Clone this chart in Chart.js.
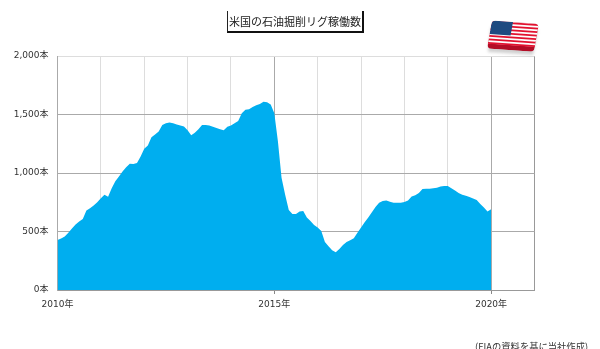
<!DOCTYPE html>
<html lang="ja">
<head>
<meta charset="utf-8">
<title>米国の石油掘削リグ稼働数</title>
<script src="https://cdn.jsdelivr.net/npm/chart.js@4"></script>
<style>
  html, body { margin: 0; padding: 0; background: #fff; overflow: hidden; }
  #wrap { position: relative; width: 600px; height: 349px; overflow: hidden; font-family: "DejaVu Sans", "Noto Sans CJK JP", sans-serif; }
  #rigChart { position: absolute; left: 0; top: 0; }
  #title {
    position: absolute; left: 227px; top: 11px; width: 134px; height: 20px;
    border-left: 1px solid #222; border-right: 2px solid #111; border-bottom: 2px solid #111;
    font: 11px/20px "Noto Sans CJK JP", sans-serif; color: #222; text-align: center; white-space: nowrap;
  }
  #source { position: absolute; left: 475px; top: 339px; font: 9.3px/14px "Noto Sans CJK JP", sans-serif; color: #333; white-space: nowrap; }
  #flag { position: absolute; left: 480px; top: 14px; }
</style>
</head>
<body>
<div id="wrap">
  <canvas id="rigChart" width="600" height="349"></canvas>
  <div id="title">米国の石油掘削リグ稼働数</div>
  <svg id="flag" width="66" height="48" viewBox="480 14 66 48">
    <defs>
      <filter id="soft"><feGaussianBlur stdDeviation="1.6"/></filter>
      <clipPath id="flagEdge"><rect x="0" y="0" width="47" height="28" rx="4"/></clipPath>
    </defs>
    <path d="M491 27 L538 30 L533 55 L488 52 Z" fill="#999" opacity="0.45" filter="url(#soft)"/>
    <g transform="matrix(1 0.07 -0.18 1 492 20.5)" clip-path="url(#flagEdge)">
      <rect x="0" y="0" width="47" height="28" fill="#b30d26"/>
      <rect x="0" y="0" width="47" height="23" fill="#fdfdfd"/>
      <rect x="0" y="0.5" width="47" height="1.8" fill="#e2112f"/>
      <rect x="0" y="4" width="47" height="1.8" fill="#e2112f"/>
      <rect x="0" y="7.5" width="47" height="1.8" fill="#e2112f"/>
      <rect x="0" y="11" width="47" height="1.8" fill="#e2112f"/>
      <rect x="0" y="14.5" width="47" height="1.8" fill="#e2112f"/>
      <rect x="0" y="18" width="47" height="1.8" fill="#e2112f"/>
      <rect x="0" y="21.5" width="47" height="1.8" fill="#e2112f"/>
      <rect x="0" y="0" width="21" height="13.5" fill="#1f4a80"/>
    </g>
  </svg>
  <div id="source">(EIAの資料を基に当社作成)</div>
</div>
<script>
// monthly rig counts, Jan 2010 to Jan 2020
const rigCounts = [
  427, 440, 458, 490, 525, 560, 585, 607, 680, 698, 722, 750,
  785, 815, 798, 870, 930, 970, 1012, 1050, 1078, 1076, 1085, 1140,
  1208, 1235, 1305, 1330, 1355, 1410, 1425, 1432, 1425, 1415, 1405, 1398,
  1365, 1322, 1345, 1375, 1410, 1410, 1405, 1395, 1385, 1373, 1365, 1395,
  1405, 1425, 1445, 1510, 1540, 1545, 1565, 1580, 1590, 1610, 1605, 1585,
  1510, 1270, 960, 815, 684, 650, 650, 672, 675, 620, 590, 555,
  535, 505, 410, 375, 340, 322, 350, 385, 410, 425, 442, 490,
  535, 580, 620, 665, 710, 745, 760, 765, 755, 745, 745, 745,
  752, 765, 800, 810, 830, 863, 865, 865, 870, 875, 885, 888,
  888, 870, 850, 830, 815, 806, 795, 783, 770, 735, 705, 672,
  690
];
const startYear = 2010;
const endYear = 2021;
const labelledYears = [2010, 2015, 2020];
const maxRigs = 2000;
const rigStep = 500;

const points = rigCounts.map((v, i) => ({ x: startYear + i / 12, y: v }));
const tickFont = { family: '"DejaVu Sans", "Noto Sans CJK JP", sans-serif', size: 9 };

new Chart(document.getElementById('rigChart'), {
  type: 'line',
  data: {
    datasets: [{
      data: points,
      backgroundColor: '#00aeef',
      borderWidth: 0,
      pointRadius: 0,
      fill: 'origin'
    }]
  },
  options: {
    responsive: false,
    animation: false,
    layout: { padding: { top: 56, right: 65.5 } },
    plugins: { legend: { display: false }, tooltip: { enabled: false } },
    scales: {
      x: {
        type: 'linear',
        min: startYear,
        max: endYear,
        afterFit: scale => { scale.height = 59; },
        border: { color: '#999' },
        grid: {
          color: ctx => {
            if (ctx.tick.value === endYear) return '#999';
            return labelledYears.includes(ctx.tick.value) && ctx.tick.value !== startYear ? '#aaa' : '#ddd';
          },
          tickLength: 4,
          tickColor: ctx => (labelledYears.includes(ctx.tick.value) && ctx.tick.value !== startYear ? '#888' : 'transparent')
        },
        ticks: {
          stepSize: 1,
          autoSkip: false,
          maxRotation: 0,
          padding: 5,
          color: '#333',
          font: tickFont,
          callback: v => (labelledYears.includes(v) ? v + '年' : '')
        }
      },
      y: {
        min: 0,
        max: maxRigs,
        afterFit: scale => { scale.width = 57.5; },
        border: { color: '#aaa' },
        grid: {
          drawTicks: false,
          color: ctx => (ctx.tick.value === maxRigs ? '#ddd' : '#aaa')
        },
        ticks: {
          stepSize: rigStep,
          padding: 9,
          color: '#333',
          font: tickFont,
          callback: v => v.toLocaleString('en-US') + '本'
        }
      }
    }
  }
});
</script>
</body>
</html>
